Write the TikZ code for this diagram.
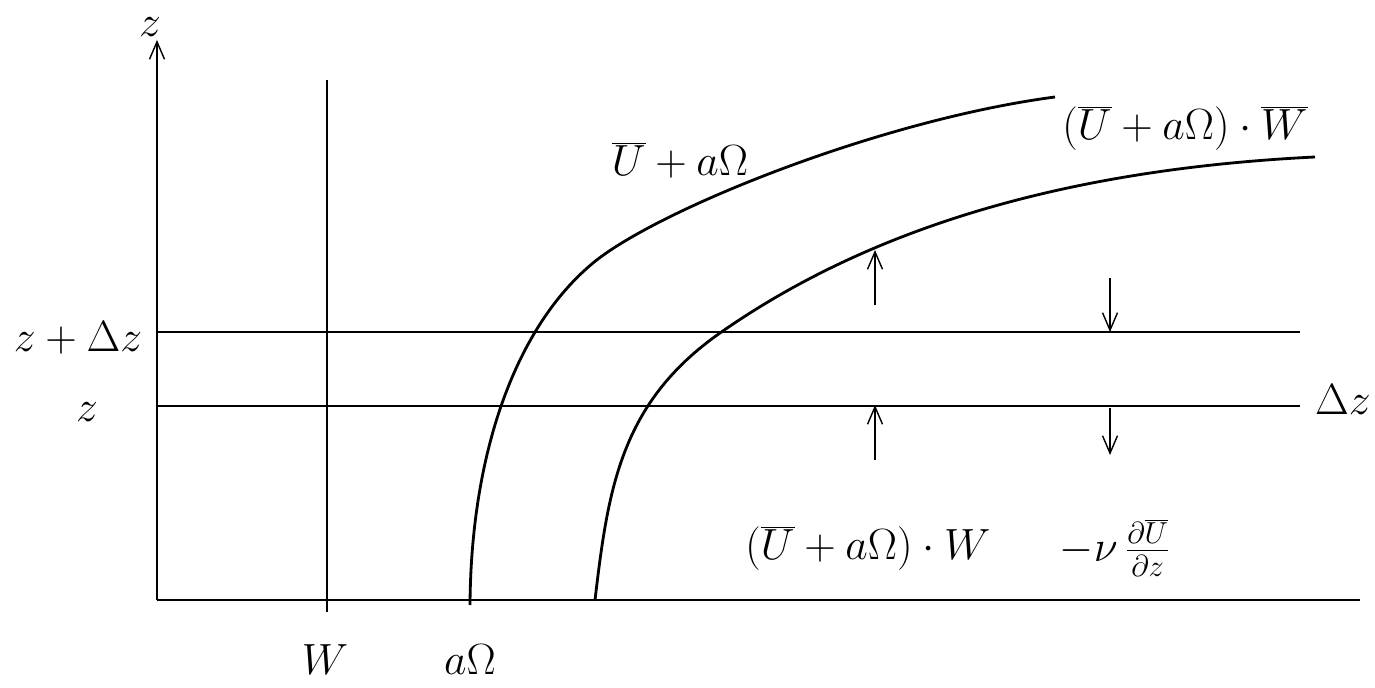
\documentclass[tikz,border=0pt]{standalone}
\usetikzlibrary{arrows.meta}
\begin{document}
\begin{tikzpicture}[x=0.02cm, y=-0.02cm, >={Straight Barb[length=3.5mm, width=3mm]}]
				\useasboundingbox (0,0) rectangle (1375,688);

				% Axes
				\coordinate (orig) at (157,600);
				\coordinate (ztop) at (157,40);
				\coordinate (xend) at (1360,600);
				\draw[->, thick] (orig) -- (ztop);
				\draw[thick] (orig) -- (xend);
				\node[font=\fontsize{28}{32}\selectfont, inner sep=1pt] (zlab) at (150,27) {$z$};

				% Vertical line W
				\coordinate (wtop) at (327,80);
				\coordinate (wbot) at (327,612);
				\draw[thick] (wtop) -- (wbot);
				\node[font=\fontsize{28}{32}\selectfont] (wlab) at (325,660) {$W$};
				\node[font=\fontsize{28}{32}\selectfont] (alab) at (470,660) {$a\Omega$};

				% Levels z and z+dz
				\coordinate (h1l) at (157,332);
				\coordinate (h1r) at (1300,332);
				\coordinate (h2l) at (157,406);
				\coordinate (h2r) at (1300,406);
				\draw[thick] (h1l) -- (h1r);
				\draw[thick] (h2l) -- (h2r);
				\node[font=\fontsize{28}{32}\selectfont] (zdz) at (78,338) {$z+\Delta z$};
				\node[font=\fontsize{28}{32}\selectfont] (zz) at (87,412) {$z$};
				\node[font=\fontsize{28}{32}\selectfont] (dz) at (1343,400) {$\Delta z$};

				% Profile curves
				\draw[ultra thick] (470,605) .. controls (471,450) and (517,326) .. (593,263)
					.. controls (657,210) and (880,120) .. (1055,97);
				\draw[ultra thick] (595,600) .. controls (608,490) and (620,403) .. (720,333)
					.. controls (860,235) and (1050,170) .. (1315,157);
				\node[font=\fontsize{28}{32}\selectfont] (ulab) at (680,160) {$\overline{U}+a\Omega$};
				\node[font=\fontsize{28}{32}\selectfont] (uwlab) at (1185,128) {$(\overline{U}+a\Omega)\cdot\overline{W}$};

				% Fluxes through the layer
				\coordinate (a1s) at (875,305);
				\coordinate (a1e) at (875,250);
				\coordinate (a2s) at (875,460);
				\coordinate (a2e) at (875,405);
				\coordinate (b1s) at (1110,278);
				\coordinate (b1e) at (1110,332);
				\coordinate (b2s) at (1110,408);
				\coordinate (b2e) at (1110,455);
				\draw[->, thick] (a1s) -- (a1e);
				\draw[->, thick] (a2s) -- (a2e);
				\draw[->, thick] (b1s) -- (b1e);
				\draw[->, thick] (b2s) -- (b2e);
				\node[font=\fontsize{26}{30}\selectfont] (adv) at (868,548) {$(\overline{U}+a\Omega)\cdot W$};
				\node[font=\fontsize{26}{30}\selectfont] (visc) at (1115,548) {$-\nu\,\frac{\partial\overline{U}}{\partial z}$};
			\end{tikzpicture}
\end{document}
